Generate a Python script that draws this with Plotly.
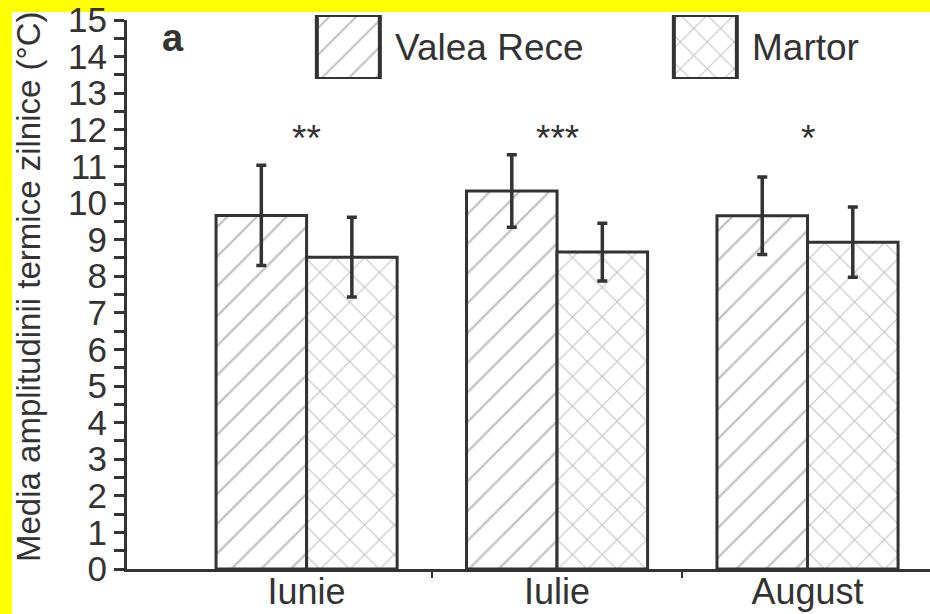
import plotly.graph_objects as go

# ---------------- data ----------------
categories = ["Iunie", "Iulie", "August"]
series_names = ["Valea Rece", "Martor"]
valea_rece = [9.66, 10.33, 9.65]
valea_rece_err = [1.37, 0.99, 1.06]
martor = [8.52, 8.66, 8.93]
martor_err = [1.09, 0.79, 0.96]
significance = ["**", "***", "*"]
y_ticks = list(range(0, 16))
y_title = "Media amplitudinii termice zilnice (°C)"
panel_label = "a"

# ---------------- layout constants ----------------
W, H = 930, 614
ML, MR, MT, MB = 127, 0, 12, 45
FONT = "Liberation Sans, Arial, Helvetica, sans-serif"
INK = "#333333"
HATCH = "#888888"
YELLOW = "#FFFF00"
PW = W - ML - MR
PH = H - MT - MB


def xp(px):
    return (px - ML) / PW


def yp(py):
    return (H - MB - py) / PH


main_top_px = 20
main_domain_top = yp(main_top_px)
STAR_Y = 11.76
patterns = ["/", "x"]

fig = go.Figure()
for name, vals, errs, pat in [
    (series_names[0], valea_rece, valea_rece_err, patterns[0]),
    (series_names[1], martor, martor_err, patterns[1]),
]:
    fig.add_trace(go.Bar(
        name=name,
        x=list(range(len(categories))),
        y=vals,
        error_y=dict(type="data", array=errs, color=INK, thickness=3.5, width=5),
        marker=dict(color="white",
                    line=dict(color=INK, width=3),
                    pattern=dict(shape=pat, fgcolor=HATCH, bgcolor="white",
                                 size=21, solidity=0.11)),
        showlegend=False,
        xaxis="x", yaxis="y",
    ))

# custom legend (large patterned boxes) drawn on an auxiliary axis pair
leg_box_w_px = 63
leg_step_px = 357
leg_c0 = 348.35
leg_unit_w = leg_box_w_px / leg_step_px
for i, (name, pat) in enumerate(zip(series_names, patterns)):
    fig.add_trace(go.Bar(
        x=[i], y=[1], width=[leg_unit_w], offset=[-leg_unit_w / 2],
        marker=dict(color="white",
                    line=dict(color=INK, width=4),
                    pattern=dict(shape=pat, fgcolor=HATCH, bgcolor="white",
                                 size=19, solidity=0.11)),
        showlegend=False, hoverinfo="skip",
        xaxis="x2", yaxis="y2", cliponaxis=False,
    ))

annotations = []
for i, name in enumerate(series_names):
    box_right = leg_c0 + i * leg_step_px + leg_box_w_px / 2
    annotations.append(dict(
        text=name, xref="paper", yref="paper",
        x=xp(box_right + 13), y=yp(47), xanchor="left", yanchor="middle",
        showarrow=False, font=dict(family=FONT, size=37, color=INK)))

for i, s in enumerate(significance):
    annotations.append(dict(
        text=s, xref="x", yref="y", x=i, y=STAR_Y,
        xanchor="center", yanchor="middle", showarrow=False,
        font=dict(family=FONT, size=37, color=INK)))

annotations.append(dict(
    text=y_title, xref="paper", yref="paper", x=xp(28), y=yp(287),
    xanchor="center", yanchor="middle", textangle=-90, showarrow=False,
    font=dict(family=FONT, size=33, color=INK)))

annotations.append(dict(
    text="<b>" + panel_label + "</b>", xref="paper", yref="paper",
    x=xp(160), y=yp(38), xanchor="left", yanchor="middle", showarrow=False,
    font=dict(family=FONT, size=38, color=INK)))

shapes = [dict(type="rect", xref="paper", yref="paper",
               x0=xp(12), x1=xp(W + 5), y0=yp(H + 5), y1=yp(12),
               fillcolor="white", line=dict(width=0), layer="below")]

fig.update_layout(
    width=W, height=H,
    margin=dict(l=ML, r=MR, t=MT, b=MB, autoexpand=False),
    paper_bgcolor=YELLOW,
    plot_bgcolor="white",
    barmode="group", bargap=0.277, bargroupgap=0,
    font=dict(family=FONT, color=INK),
    xaxis=dict(
        range=[-0.717, 2.489], showline=True, linewidth=3, linecolor=INK,
        tickmode="array", tickvals=list(range(len(categories))), ticktext=categories,
        ticks="", ticklen=0, ticklabelstandoff=-11,
        tickfont=dict(family=FONT, size=36, color=INK),
        minor=dict(tickmode="array", tickvals=[0.5, 1.5], ticks="outside",
                   ticklen=6, tickwidth=2, tickcolor=INK, showgrid=False),
        showgrid=False, zeroline=False, anchor="y",
    ),
    yaxis=dict(
        range=[0, 15], domain=[0, main_domain_top], showline=True, linewidth=3,
        linecolor=INK, tickmode="array", tickvals=y_ticks, ticks="outside",
        ticklen=10, tickwidth=3, tickcolor=INK,
        tickfont=dict(family=FONT, size=35, color=INK),
        minor=dict(dtick=0.5, ticks="outside", ticklen=10, tickwidth=3,
                   tickcolor=INK, showgrid=False),
        showgrid=False, zeroline=False, anchor="x",
    ),
    xaxis2=dict(domain=[xp(leg_c0 - leg_step_px / 2), xp(leg_c0 + 1.5 * leg_step_px)],
                range=[-0.5, 1.5], visible=False, anchor="y2", fixedrange=True),
    yaxis2=dict(domain=[yp(79), yp(15)], range=[0, 1], visible=False,
                anchor="x2", fixedrange=True),
    annotations=annotations,
    shapes=shapes,
)

fig.write_html(
    "out.html",
    config={"displayModeBar": False},
    post_script="document.body.style.margin='0';document.body.style.padding='0';"
                "document.body.style.overflow='hidden';",
)
